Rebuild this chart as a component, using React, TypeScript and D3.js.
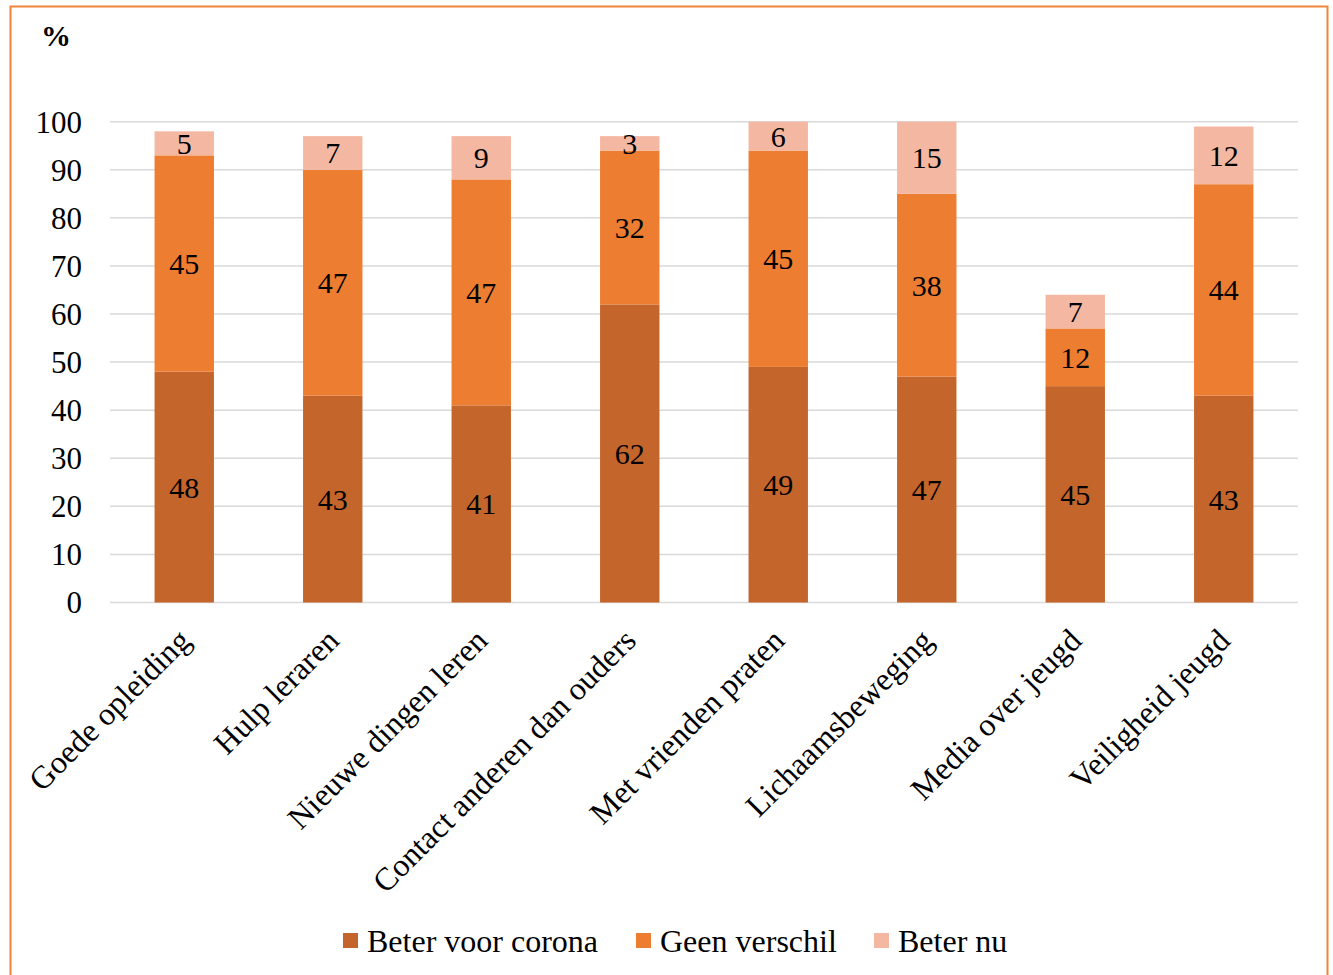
import React from "react";
import * as d3 from "d3";

const categories = [
  "Goede opleiding",
  "Hulp leraren",
  "Nieuwe dingen leren",
  "Contact anderen dan ouders",
  "Met vrienden praten",
  "Lichaamsbeweging",
  "Media over jeugd",
  "Veiligheid jeugd",
];
const seriesNames = ["Beter voor corona", "Geen verschil", "Beter nu"];
const beterVoorCorona = [48, 43, 41, 62, 49, 47, 45, 43];
const geenVerschil = [45, 47, 47, 32, 45, 38, 12, 44];
const beterNu = [5, 7, 9, 3, 6, 15, 7, 12];
const yTicks = [0, 10, 20, 30, 40, 50, 60, 70, 80, 90, 100];
const colors = ["#C4652B", "#ED7D31", "#F4B8A2"];

export default function App() {
  const W = 1333;
  const H = 975;
  const left = 110;
  const right = 1298;
  const top = 121.7;
  const bottom = 602.5;
  const x = d3.scaleBand<string>().domain(categories).range([left, right]).paddingInner(0.6).paddingOuter(0.3);
  const y = d3.scaleLinear().domain([0, 100]).range([bottom, top]);
  const rows = categories.map((c, i) => ({
    cat: c,
    s0: beterVoorCorona[i],
    s1: geenVerschil[i],
    s2: beterNu[i],
  }));
  const stack = d3.stack<any>().keys(["s0", "s1", "s2"]);
  const layers = stack(rows);
  const font = "'Liberation Serif', 'Times New Roman', serif";
  const legendX = [343, 636, 874];

  return (
    <svg width={W} height={H} style={{ position: "absolute", left: 0, top: 0, background: "#fff" }} fontFamily={font}>
      <rect x={10.5} y={6.5} width={1317} height={1000} fill="#fff" stroke="#F0843A" strokeWidth={2} />
      <text x={56} y={46} fontSize={30} fontWeight="bold" textAnchor="middle">%</text>
      {yTicks.map((t) => (
        <g key={t}>
          <line x1={left} x2={right} y1={y(t)} y2={y(t)} stroke="#D9D9D9" strokeWidth={1.5} />
          <text x={82} y={y(t)} dy="0.35em" fontSize={31} textAnchor="end">{t}</text>
        </g>
      ))}
      {layers.map((layer, li) => (
        <g key={li}>
          {layer.map((d, i) => {
            const x0 = x(categories[i])!;
            const bw = x.bandwidth();
            const y0 = y(d[0]);
            const y1 = y(d[1]);
            return (
              <g key={i}>
                <rect x={x0} y={y1} width={bw} height={y0 - y1} fill={colors[li]} />
                <text x={x0 + bw / 2} y={(y0 + y1) / 2} dy="0.35em" fontSize={30} textAnchor="middle">
                  {d[1] - d[0]}
                </text>
              </g>
            );
          })}
        </g>
      ))}
      {categories.map((c) => {
        const cx = x(c)! + x.bandwidth() / 2 + 8;
        const cy = bottom + 40;
        return (
          <text key={c} transform={`translate(${cx},${cy}) rotate(-45)`} fontSize={32} textAnchor="end">
            {c}
          </text>
        );
      })}
      {seriesNames.map((s, i) => (
        <g key={s}>
          <rect x={legendX[i]} y={933} width={15} height={15} fill={colors[i]} />
          <text x={legendX[i] + 24} y={952} fontSize={32}>{s}</text>
        </g>
      ))}
    </svg>
  );
}
